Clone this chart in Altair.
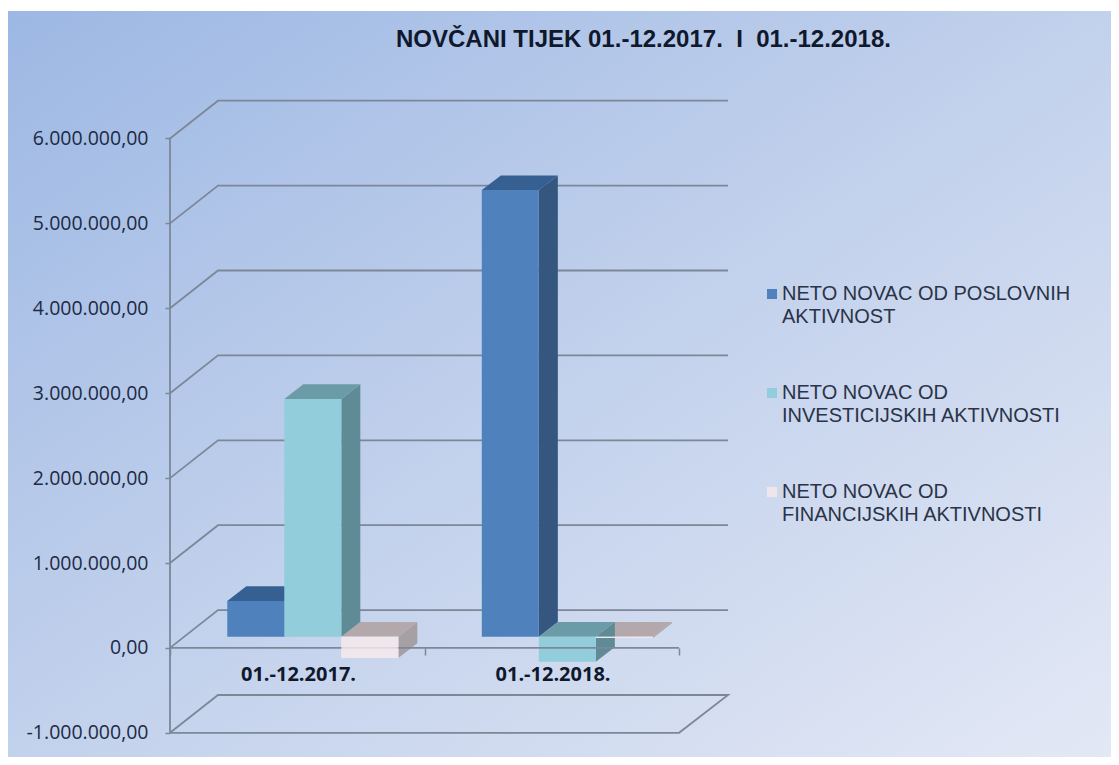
import altair as alt
import pandas as pd

TITLE = "NOVČANI TIJEK 01.-12.2017.\u00a0 I \u00a001.-12.2018."
CATEGORIES = ["01.-12.2017.", "01.-12.2018."]
SERIES = ["NETO NOVAC OD POSLOVNIH|AKTIVNOST",
          "NETO NOVAC OD|INVESTICIJSKIH AKTIVNOSTI",
          "NETO NOVAC OD|FINANCIJSKIH AKTIVNOSTI"]
POSLOVNE = [420000, 5260000]
INVESTICIJSKE = [2800000, -295000]
FINANCIJSKE = [-250000, -15000]
VALUES = [POSLOVNE, INVESTICIJSKE, FINANCIJSKE]
FRONT = ["#4f81bd", "#92cddc", "#efe6ec"]
TOP = ["#376092", "#6b9ba6", "#b3a9ad"]
SIDE = ["#34567f", "#5f8b96", "#a69fa3"]
TICKS = [-1000000, 0, 1000000, 2000000, 3000000, 4000000, 5000000, 6000000]

W, H = 1103, 749
xs = alt.Scale(domain=[-0.6365, 3.697], nice=False, zero=False)
ys = alt.Scale(domain=[-1285000, 7537000], nice=False, zero=False)
GRID = "#7c8798"
TXT = "#1d2a44"

XAX = alt.Axis(
    values=[0, 1, 2], orient="bottom", offset=-(H + 8 - 648), domain=False, grid=False, zindex=1,
    tickColor=GRID, tickSize=7, tickWidth=1.5,
    labelExpr="datum.value == 0 ? '%s' : datum.value == 1 ? '%s' : ''" % tuple(CATEGORIES),
    labelOffset=128, labelPadding=9, labelFont="Open Sans", labelFontWeight="bold",
    labelFontSize=20, labelColor="#10182c")
YAX = alt.Axis(
    values=TICKS, orient="left", offset=-162, domain=False, grid=False, zindex=1,
    tickColor=GRID, tickSize=5, tickWidth=1.5,
    labelExpr="replace(replace(replace(replace(format(datum.value,',.2f'),regexp('[.]','g'),'|'),regexp(',','g'),'.'),'|',','),'\u2212','-')",
    labelPadding=17, labelFont="Open Sans", labelFontSize=19.5, labelColor=TXT)
X0 = alt.X("x:Q", scale=xs, title=None, axis=XAX)
Y0 = alt.Y("y:Q", scale=ys, title=None, axis=YAX)

BAR_W, BAR_START = 0.224, 0.225
DX, DY = 0.0747, 173000        # bar depth
SHIFT = 132000                 # bar front plane above the axis plane
GDX, GDY = 0.1886, 445000      # wall depth
GEND = 2.1925

side_rows, top_rows, front_rows = [[], [], []], [[], [], []], []
for j, series in enumerate(SERIES):
    for i, cat in enumerate(CATEGORIES):
        v = VALUES[j][i]
        xl = i + BAR_START + j * BAR_W
        xr = xl + BAR_W
        hi, lo = max(v, 0) + SHIFT, min(v, 0) + SHIFT
        front_rows.append(dict(x=xl, x2=xr, y=hi, y2=lo, series=series, cat=cat))
        side_rows[j] += [dict(x=xr, y=hi, y2=lo, cat=cat),
                         dict(x=xr + DX, y=hi + DY, y2=lo + DY, cat=cat)]
        top_rows[j] += [dict(y=hi, x=xl, x2=xr, cat=cat),
                        dict(y=hi + DY, x=xl + DX, x2=xr + DX, cat=cat)]

grid_rows = []
for t in TICKS:
    grid_rows += [dict(x=0, y=t, o=0, lvl=t),
                  dict(x=GDX, y=t + GDY, o=1, lvl=t),
                  dict(x=GEND, y=t + GDY, o=2, lvl=t)]
grid_rows += [dict(x=2, y=TICKS[0], o=3, lvl=TICKS[0]),
              dict(x=0, y=TICKS[0], o=4, lvl=TICKS[0])]

bg = alt.Chart(pd.DataFrame({"a": [0]})).mark_rect(
    color=alt.Gradient(
        gradient="linear", x1=0, y1=0, x2=1, y2=1,
        stops=[alt.GradientStop(color="#9db8e4", offset=0),
               alt.GradientStop(color="#c2d1ec", offset=0.5),
               alt.GradientStop(color="#e3e8f5", offset=1)])
).encode(x=alt.value(0), x2=alt.value(W), y=alt.value(3), y2=alt.value(H))

grid = alt.Chart(pd.DataFrame(grid_rows)).mark_line(color=GRID, strokeWidth=1.8).encode(
    x=X0, y=Y0, detail="lvl:N", order="o:Q")

left = alt.Chart(pd.DataFrame({"x": [0], "y": [TICKS[0]], "y2": [TICKS[-1]]})).mark_rule(
    color=GRID, strokeWidth=1.8).encode(x=X0, y=Y0, y2="y2:Q")

layers = [bg, grid, left]
for j in [2, 0, 1]:
    layers.append(alt.Chart(pd.DataFrame(side_rows[j])).mark_area(color=SIDE[j]).encode(
        x=X0, y=Y0, y2="y2:Q", detail="cat:N"))
    layers.append(alt.Chart(pd.DataFrame(top_rows[j])).mark_area(color=TOP[j], orient="horizontal").encode(
        y=Y0, x=X0, x2="x2:Q", detail="cat:N"))

front = alt.Chart(pd.DataFrame(front_rows)).mark_rect().encode(
    x=X0, x2="x2:Q", y=Y0, y2="y2:Q",
    color=alt.Color("series:N", scale=alt.Scale(domain=SERIES, range=FRONT), legend=alt.Legend(
        title=None, orient="none", legendX=754, legendY=276, symbolType="square", symbolSize=100,
        symbolStrokeWidth=0, symbolOpacity=1, labelFont="Liberation Sans", labelFontSize=20, labelLimit=400,
        labelColor="#2a3347", labelExpr="split(datum.label,'|')", rowPadding=56, labelOffset=0)))

zero = alt.Chart(pd.DataFrame([{"x": 0, "x2": 2, "y": 0}])).mark_rule(color=GRID, strokeWidth=1.8).encode(
    x=X0, x2="x2:Q", y=Y0)

overlay = alt.Chart(pd.DataFrame(front_rows[4:])).mark_rect(color=FRONT[2], opacity=0.85).encode(
    x=X0, x2="x2:Q", y=Y0, y2="y2:Q")

chart = alt.layer(*layers, front, zero, overlay).properties(
    width=W, height=H, padding=0, autosize=alt.AutoSizeParams(type="none"),
    title=alt.TitleParams(TITLE, anchor="start", frame="group", dx=388, dy=56, offset=0, baseline="middle",
                          font="Liberation Sans", fontSize=24, fontWeight="bold", color="#10182c"),
).configure(style={"guide-label": {"lineHeight": 22.5}}).configure_view(stroke=None)

chart.save("out.html", embed_options={"renderer": "svg", "actions": False})
